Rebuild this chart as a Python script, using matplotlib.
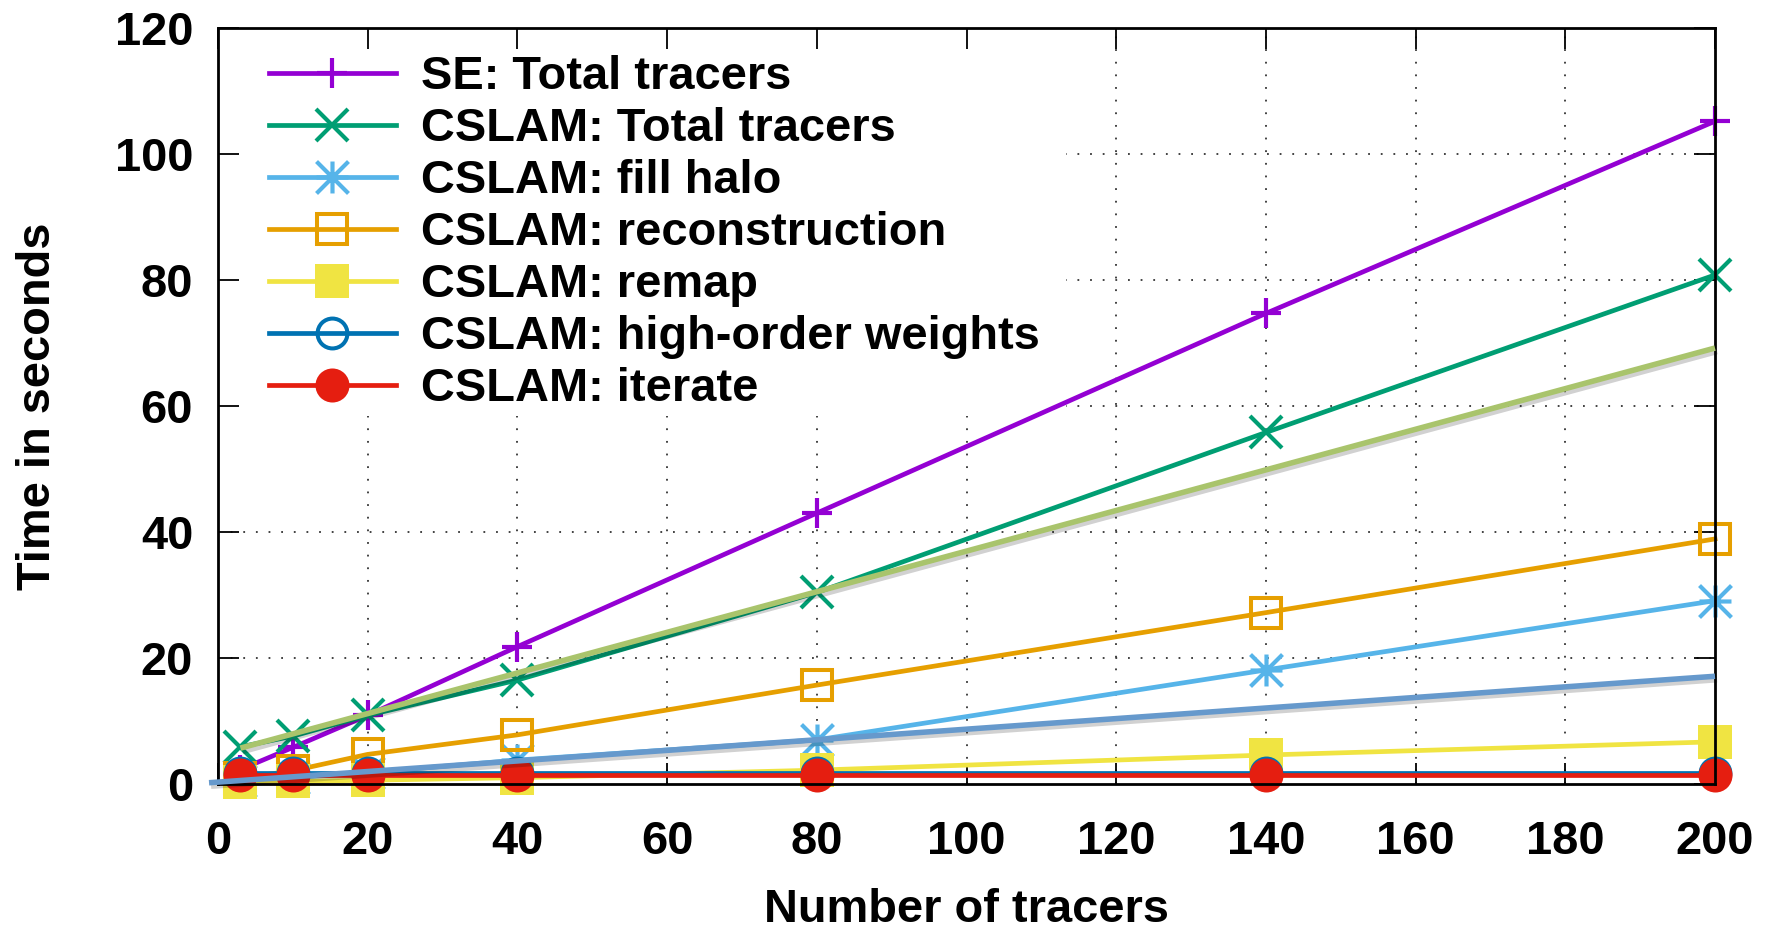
import matplotlib
matplotlib.use("Agg")
import matplotlib.pyplot as plt
from matplotlib.path import Path
from matplotlib.patches import Rectangle
import matplotlib.patheffects as pe

# ---- data ----
tracers = [3, 10, 20, 40, 80, 140, 200]
se_total = [2.3, 5.8, 10.9, 21.8, 43.0, 74.7, 105.2]
cslam_total = [5.9, 7.6, 10.9, 16.5, 30.4, 55.8, 80.8]
fill_halo = [0.5, 1.0, 1.8, 3.8, 7.0, 18.1, 29.1]
reconstruction = [0.9, 2.1, 4.7, 7.8, 15.7, 27.2, 38.9]
remap = [0.3, 0.4, 0.6, 1.0, 2.2, 4.6, 6.7]
high_order = [1.8, 1.8, 1.8, 1.8, 1.8, 1.8, 1.8]
iterate = [1.4, 1.4, 1.4, 1.4, 1.4, 1.4, 1.4]

# hand-drawn trend lines (start / end points)
trend_green_x = [3, 200]
trend_green_y = [5.7, 69.2]
trend_blue_x = [-1.2, 200]
trend_blue_y = [0.2, 17.1]

labels = ["SE: Total tracers", "CSLAM: Total tracers", "CSLAM: fill halo",
          "CSLAM: reconstruction", "CSLAM: remap",
          "CSLAM: high-order weights", "CSLAM: iterate"]
xticks = [0, 20, 40, 60, 80, 100, 120, 140, 160, 180, 200]
yticks = [0, 20, 40, 60, 80, 100, 120]

plt.rcParams['font.family'] = ['Liberation Sans', 'DejaVu Sans']
plt.rcParams['font.weight'] = 'bold'

FS = 33.8

fig = plt.figure(figsize=(17.73, 9.32), dpi=100)
ax = fig.add_axes([218/1773, 1-784/932, 1497/1773, 756/932])
ax.set_xlim(0, 200)
ax.set_ylim(0, 120)

# grid (dotted) drawn below everything
for xv in xticks[1:-1]:
    ax.axvline(xv, color='#333333', lw=1.3, ls=(0, (1, 6)), zorder=0.3)
for yv in yticks[1:-1]:
    ax.axhline(yv, color='#333333', lw=1.3, ls=(0, (1, 6)), zorder=0.3)
# opaque key area covering grid
ax.add_patch(Rectangle((0, 0.487), 0.5665, 0.513, transform=ax.transAxes,
                       facecolor='white', edgecolor='none', zorder=0.4))

star = Path([(-1, 0), (1, 0), (0, -1), (0, 1), (-1, -1), (1, 1), (-1, 1), (1, -1)],
            [Path.MOVETO, Path.LINETO] * 4)

lw = 3.4
styles = [
    dict(color='#9400D3', marker='+', ms=21.5, mew=3.0),
    dict(color='#009E73', marker='x', ms=23, mew=3.0),
    dict(color='#56B4E9', marker=star, ms=23, mew=3.0, mfc='none'),
    dict(color='#E69F00', marker='s', ms=21.5, mew=2.9, mfc='none'),
    dict(color='#F0E442', marker='s', ms=25, mew=0),
    dict(color='#0072B2', marker='o', ms=21.5, mew=2.9, mfc='none'),
    dict(color='#E51E10', marker='o', ms=24.5, mew=0),
]
series = [se_total, cslam_total, fill_halo, reconstruction, remap, high_order, iterate]
handles = []
for i, (ys, st, lab) in enumerate(zip(series, styles, labels)):
    h, = ax.plot(tracers, ys, lw=lw, label=lab, clip_on=False, zorder=2 + i * 0.01, **st)
    handles.append(h)

shadow = [pe.SimpleLineShadow(offset=(1.5, -2.5), shadow_color='black', alpha=0.18), pe.Normal()]
ax.plot(trend_green_x, trend_green_y, color='#A9C46C', lw=4.0, solid_capstyle='butt',
        zorder=2.6, clip_on=False, path_effects=shadow)
ax.plot(trend_blue_x, trend_blue_y, color='#6699CC', lw=4.0, solid_capstyle='butt',
        zorder=2.6, clip_on=False, path_effects=shadow)

ax.set_xticks(xticks)
ax.set_yticks(yticks)
ax.tick_params(direction='in', length=15, width=1.3, top=True, right=True,
               labelsize=FS, colors='black')
ax.tick_params(axis='x', pad=26)
ax.tick_params(axis='y', pad=18)
for s in ax.spines.values():
    s.set_linewidth(2.0)
    s.set_zorder(2.5)

ax.set_xlabel("Number of tracers", fontsize=FS, fontweight='bold')
ax.set_ylabel("Time in seconds", fontsize=FS, fontweight='bold')
ax.xaxis.label.set_va('bottom')
ax.xaxis.set_label_coords(0.5, (784 - 931.5) / 756)
ax.yaxis.label.set_va('baseline')
ax.yaxis.set_label_coords((50 - 218) / 1497, 0.5)

leg = ax.legend(handles=handles, loc='upper left', bbox_to_anchor=(0.034, 0.964),
                frameon=False, fontsize=FS, handlelength=2.7, handletextpad=0.53,
                labelspacing=0.17, borderpad=0, borderaxespad=0, numpoints=1)
leg.set_zorder(5)

fig.savefig("out.png", dpi=100)
